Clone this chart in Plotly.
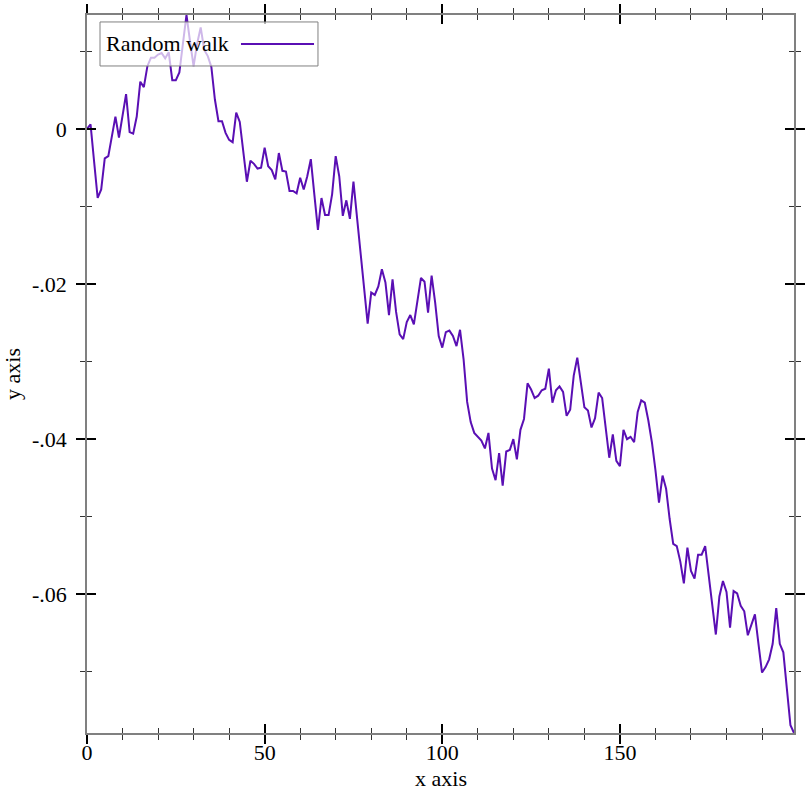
import plotly.graph_objects as go

series_name = "Random walk"
x_values = list(range(200))
y_values = [
    0.0, 0.0006, -0.0042, -0.0089, -0.0078, -0.0038, -0.0035, -0.0009, 0.0016, -0.0011,
    0.0016, 0.0045, -0.0004, -0.0006, 0.0016, 0.0061, 0.0054, 0.0081, 0.0092, 0.0092,
    0.0096, 0.0098, 0.0091, 0.0099, 0.0063, 0.0063, 0.0073, 0.0110, 0.0147, 0.0113,
    0.0081, 0.0110, 0.0131, 0.0102, 0.0094, 0.0080, 0.0038, 0.0010, 0.0010, -0.0005,
    -0.0014, -0.0017, 0.0021, 0.0009, -0.0033, -0.0068, -0.0041, -0.0045, -0.0051, -0.0050,
    -0.0024, -0.0048, -0.0053, -0.0065, -0.0031, -0.0054, -0.0055, -0.0080, -0.0080, -0.0083,
    -0.0063, -0.0078, -0.0061, -0.0039, -0.0085, -0.0130, -0.0089, -0.0111, -0.0111, -0.0084,
    -0.0035, -0.0061, -0.0112, -0.0092, -0.0116, -0.0068, -0.0114, -0.0159, -0.0207, -0.0251,
    -0.0211, -0.0214, -0.0203, -0.0181, -0.0198, -0.0240, -0.0194, -0.0236, -0.0265, -0.0271,
    -0.0249, -0.0240, -0.0252, -0.0219, -0.0192, -0.0197, -0.0237, -0.0189, -0.0224, -0.0267,
    -0.0282, -0.0262, -0.0260, -0.0267, -0.0280, -0.0259, -0.0297, -0.0352, -0.0378, -0.0392,
    -0.0397, -0.0402, -0.0412, -0.0392, -0.0438, -0.0453, -0.0418, -0.0460, -0.0416, -0.0414,
    -0.0400, -0.0426, -0.0388, -0.0374, -0.0328, -0.0336, -0.0347, -0.0344, -0.0337, -0.0335,
    -0.0309, -0.0353, -0.0337, -0.0332, -0.0339, -0.0370, -0.0362, -0.0318, -0.0295, -0.0327,
    -0.0359, -0.0363, -0.0385, -0.0373, -0.0340, -0.0347, -0.0387, -0.0424, -0.0394, -0.0428,
    -0.0435, -0.0388, -0.0400, -0.0397, -0.0404, -0.0365, -0.0350, -0.0353, -0.0376, -0.0404,
    -0.0440, -0.0482, -0.0447, -0.0464, -0.0503, -0.0535, -0.0538, -0.0558, -0.0586, -0.0540,
    -0.0570, -0.0580, -0.0549, -0.0549, -0.0538, -0.0578, -0.0619, -0.0652, -0.0603, -0.0583,
    -0.0597, -0.0643, -0.0596, -0.0599, -0.0615, -0.0622, -0.0653, -0.0638, -0.0626, -0.0664,
    -0.0701, -0.0694, -0.0684, -0.0664, -0.0618, -0.0664, -0.0675, -0.0722, -0.0769, -0.0779,
]
x_tick_vals = [0, 50, 100, 150]
x_tick_text = ["0", "50", "100", "150"]
y_tick_vals = [0, -0.02, -0.04, -0.06]
y_tick_text = ["0", "-.02", "-.04", "-.06"]
x_title = "x axis"
y_title = "y axis"

LINE_COLOR = "#5a0fb4"
FONT = "Liberation Serif"
FS = 22
TXT = dict(family=FONT, size=FS, color="#000000")

x_range = [min(x_values), max(x_values)]
y_range = [min(y_values), max(y_values)]

fig = go.Figure()
fig.add_trace(go.Scatter(x=x_values, y=y_values, mode="lines", name=series_name,
                         line=dict(color=LINE_COLOR, width=2), showlegend=False,
                         xaxis="x", yaxis="y"))
fig.add_trace(go.Scatter(x=[None], y=[None], mode="lines", showlegend=False,
                         hoverinfo="skip", xaxis="x2", yaxis="y2"))

def axis_common(ticks, showlabels):
    return dict(
        showline=True, linecolor="#808080", linewidth=1.5, mirror="allticks",
        ticks=ticks, ticklen=9, tickwidth=2, tickcolor="#000000",
        showgrid=False, zeroline=False, showticklabels=showlabels, automargin=False,
        tickfont=TXT,
    )

xa = axis_common("outside", True)
xa.update(range=x_range, tickmode="array", tickvals=x_tick_vals, ticktext=x_tick_text,
          minor=dict(dtick=10, tick0=0, ticks="outside", ticklen=5, tickwidth=1, tickcolor="#333333"),
          ticklabelstandoff=-10)
xa2 = axis_common("inside", False)
xa2.update(range=x_range, tickmode="array", tickvals=x_tick_vals, overlaying="x", side="bottom",
           anchor="y2",
           minor=dict(dtick=10, tick0=0, ticks="inside", ticklen=5, tickwidth=1, tickcolor="#333333"))
ya = axis_common("outside", True)
ya.update(range=y_range, tickmode="array", tickvals=y_tick_vals, ticktext=y_tick_text,
          minor=dict(dtick=0.01, tick0=0, ticks="outside", ticklen=5, tickwidth=1, tickcolor="#333333"),
          title=dict(text=y_title, font=TXT, standoff=12),
          ticklabelstandoff=5)
ya2 = axis_common("inside", False)
ya2.update(range=y_range, tickmode="array", tickvals=y_tick_vals, overlaying="y", side="left",
           anchor="x2",
           minor=dict(dtick=0.01, tick0=0, ticks="inside", ticklen=5, tickwidth=1, tickcolor="#333333"))

# legend box (legend sample on the right, as in the reference)
lx0, lx1 = 0.0184, 0.3267
ly0, ly1 = 0.929, 0.9903
ymid = (ly0 + ly1) / 2
shapes = [
    dict(type="rect", xref="paper", yref="paper", x0=lx0, x1=lx1, y0=ly0, y1=ly1,
         line=dict(color="#808080", width=1), fillcolor="rgba(255,255,255,0.7)", layer="above"),
    dict(type="line", xref="paper", yref="paper", x0=0.2178, x1=0.3211, y0=ymid, y1=ymid,
         line=dict(color=LINE_COLOR, width=2), layer="above"),
]
annotations = [
    dict(text=series_name, xref="paper", yref="paper", x=0.024, y=ymid, xanchor="left",
         yanchor="middle", showarrow=False, font=TXT),
    dict(text=x_title, xref="paper", yref="paper", x=0.5, y=-0.064, xanchor="center",
         yanchor="middle", showarrow=False, font=TXT),
]

fig.update_layout(
    width=812, height=812,
    margin=dict(l=87, r=18, t=15, b=79),
    paper_bgcolor="white", plot_bgcolor="white",
    xaxis=xa, xaxis2=xa2, yaxis=ya, yaxis2=ya2,
    shapes=shapes, annotations=annotations,
    showlegend=False,
)
fig.write_html("out.html")
